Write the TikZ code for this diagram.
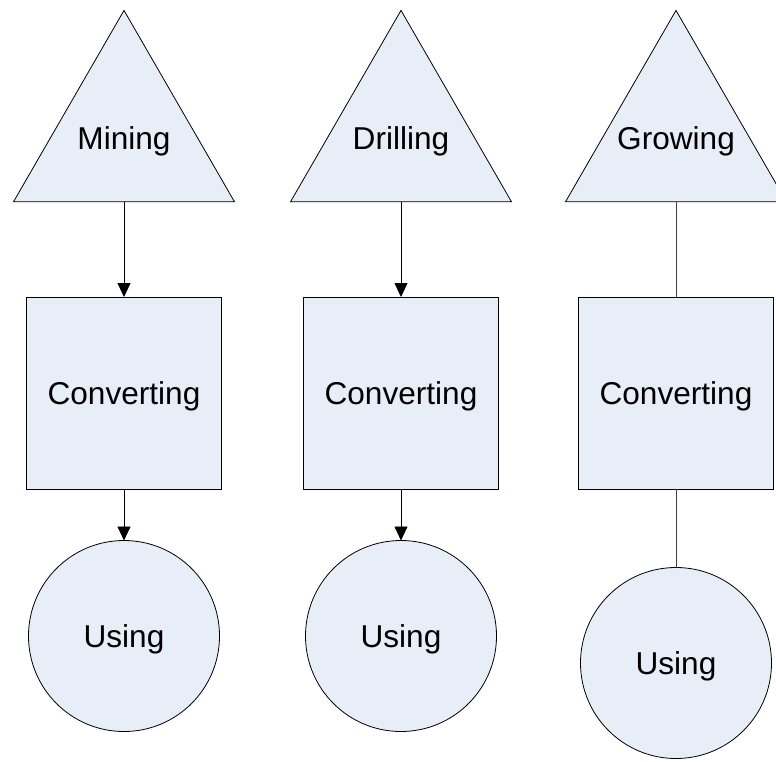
\documentclass[tikz,border=0pt]{standalone}
\usepackage{fontspec}
\setmainfont{Liberation Sans}
\usetikzlibrary{shapes.geometric, arrows.meta}
\definecolor{paleblue}{RGB}{232,238,247}

\begin{document}
\begin{tikzpicture}[x=1pt, y=-1pt,
		word/.style={font=\fontsize{31.6}{36}\selectfont, text height=22.6pt, text depth=0pt, inner sep=0pt},
		part/.style={draw, fill=paleblue, line width=0.8pt, inner sep=0pt, outer sep=0pt, word},
		tri/.style={part, regular polygon, regular polygon sides=3, minimum size=255.2pt},
		box/.style={part, rectangle, minimum width=195pt, minimum height=192pt},
		disc/.style={part, circle, minimum size=191pt},
		link/.style={line width=0.8pt, -{Triangle[length=14pt, width=13pt]}},
		plain/.style={line width=0.8pt, black!75}]
		\useasboundingbox (0,0) rectangle (776,761);

		\node[tri, label={[word]center:Mining}] (mining) at (124,138) {};
		\node[tri, label={[word]center:Drilling}] (drilling) at (401,138) {};
		\node[tri, label={[word]center:Growing}] (growing) at (676,138) {};

		\node[box] (conv1) at (124,393) {Converting};
		\node[box] (conv2) at (401,393) {Converting};
		\node[box] (conv3) at (676,393) {Converting};

		\node[disc] (use1) at (124,636) {Using};
		\node[disc] (use2) at (401,636) {Using};
		\node[disc] (use3) at (676,663) {Using};

		\draw[link] (mining.side 2) -- (conv1.north);
		\draw[link] (conv1.south) -- (use1.north);
		\draw[link] (drilling.side 2) -- (conv2.north);
		\draw[link] (conv2.south) -- (use2.north);
		\draw[plain] (growing.side 2) -- (conv3.north);
		\draw[plain] (conv3.south) -- (use3.north);
	\end{tikzpicture}
\end{document}
